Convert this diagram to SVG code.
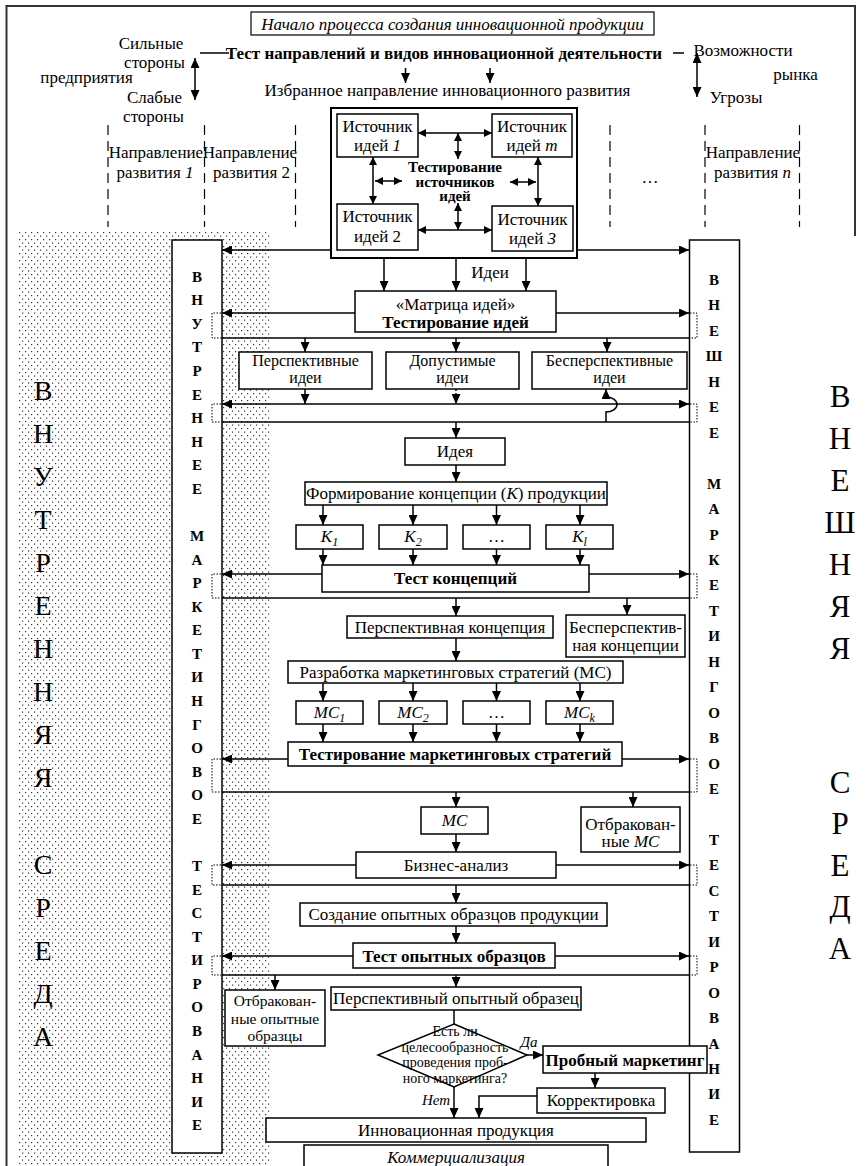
<svg xmlns="http://www.w3.org/2000/svg" width="865" height="1166" viewBox="0 0 865 1166">
<defs>
  <pattern id="dots" width="6" height="7" patternUnits="userSpaceOnUse">
    <rect x="1" y="1" width="1.2" height="1.2" fill="#333"/>
    <rect x="4" y="4.5" width="1.2" height="1.2" fill="#333"/>
  </pattern>
  <marker id="ah" viewBox="0 0 10 9" refX="10" refY="4.5" markerWidth="10" markerHeight="9" markerUnits="userSpaceOnUse" orient="auto-start-reverse">
    <path d="M0,0 L10,4.5 L0,9 z" fill="#000"/>
  </marker>
  <marker id="sh" viewBox="0 0 8 8" refX="8" refY="4" markerWidth="8" markerHeight="8" markerUnits="userSpaceOnUse" orient="auto-start-reverse">
    <path d="M0,0 L8,4 L0,8 z" fill="#000"/>
  </marker>
</defs>
<style>
  .t{font-family:"Liberation Serif","Times New Roman",serif;font-size:17px;fill:#000;text-anchor:middle}
  .s14{font-size:14px}
  .s15{font-size:15px}
  .s155{font-size:15.5px}
  .s16{font-size:16px}
  .b{font-weight:bold}
  .i{font-style:italic}
  .sub{font-size:12px}
  .box{fill:#fff;stroke:#000;stroke-width:1.5}
  .ln{fill:none;stroke:#000;stroke-width:1.5}
  .ar{fill:none;stroke:#000;stroke-width:1.5;marker-end:url(#ah)}
  .dar{fill:none;stroke:#000;stroke-width:1.5;stroke-dasharray:2 2;marker-end:url(#ah)}
  .da{fill:none;stroke:#000;stroke-width:1.5;marker-start:url(#ah);marker-end:url(#ah)}
  .sda{fill:none;stroke:#000;stroke-width:1.5;marker-start:url(#sh);marker-end:url(#sh)}
  .br{fill:none;stroke:#000;stroke-width:1;stroke-dasharray:1.5 1.5}
  .vd{fill:none;stroke:#000;stroke-width:1.2;stroke-dasharray:10 6}
  .frame{fill:none;stroke:#333;stroke-width:2}
  .col{font-family:"Liberation Serif","Times New Roman",serif;font-size:15px;font-weight:bold;text-anchor:middle;fill:#000}
  .big{font-family:"Liberation Serif","Times New Roman",serif;text-anchor:middle;fill:#000}
</style>

<!-- shaded internal environment band and page frame -->
<rect x="18" y="230" width="252" height="936" fill="url(#dots)"/>
<path class="frame" d="M6.5,1166 V6 H855 V236"/>

<!-- side captions -->
<g id="internal-env">
  <text class="big" font-size="28"><tspan x="43" y="399.5">В</tspan><tspan x="43" dy="43.1">Н</tspan><tspan x="43" dy="43.1">У</tspan><tspan x="43" dy="43.1">Т</tspan><tspan x="43" dy="43.1">Р</tspan><tspan x="43" dy="43.1">Е</tspan><tspan x="43" dy="43.1">Н</tspan><tspan x="43" dy="43.1">Н</tspan><tspan x="43" dy="43.1">Я</tspan><tspan x="43" dy="43.1">Я</tspan><tspan x="43" dy="86.2">С</tspan><tspan x="43" dy="43.1">Р</tspan><tspan x="43" dy="43.1">Е</tspan><tspan x="43" dy="43.1">Д</tspan><tspan x="43" dy="43.1">А</tspan></text>
</g>
<g id="external-env">
  <text class="big" font-size="31"><tspan x="840" y="406.5">В</tspan><tspan x="840" dy="42">Н</tspan><tspan x="840" dy="42">Е</tspan><tspan x="840" dy="42">Ш</tspan><tspan x="840" dy="42">Н</tspan><tspan x="840" dy="42">Я</tspan><tspan x="840" dy="42">Я</tspan><tspan x="840" dy="134">С</tspan><tspan x="840" dy="41.5">Р</tspan><tspan x="840" dy="41.5">Е</tspan><tspan x="840" dy="41.5">Д</tspan><tspan x="840" dy="41.5">А</tspan></text>
</g>

<!-- top section -->
<g id="start">
  <rect x="251" y="12" width="403" height="23" fill="#fff" stroke="#000" stroke-width="1.2"/>
  <text class="t i" x="452.5" y="29.5">Начало процесса создания инновационной продукции</text>
</g>
<g id="strengths">
  <text class="t" x="151" y="49">Сильные</text>
  <text class="t" x="154.5" y="68">стороны</text>
  <text class="t" x="86.5" y="83">предприятия</text>
  <text class="t" x="154.5" y="103">Слабые</text>
  <text class="t" x="153.5" y="122">стороны</text>
</g>
<g id="direction-test">
  <text class="t b" x="444" y="59">Тест направлений и видов инновационной деятельности</text>
</g>
<g id="market">
  <text class="t" x="743" y="56">Возможности</text>
  <text class="t" x="795.5" y="80">рынка</text>
  <text class="t" x="736" y="103">Угрозы</text>
</g>
<g id="chosen-direction">
  <text class="t" x="447.5" y="96">Избранное направление инновационного развития</text>
</g>
<g id="directions">
  <path class="vd" d="M108,125 V227 M204.5,125 V227 M295.5,125 V227 M610,125 V227 M705,125 V227 M799.5,125 V227"/>
  <text class="t" x="156" y="158">Направление</text>
  <text class="t" x="155" y="178">развития <tspan class="i">1</tspan></text>
  <text class="t" x="250" y="158">Направление</text>
  <text class="t" x="251.5" y="178">развития 2</text>
  <text class="t" x="650" y="183">…</text>
  <text class="t" x="753" y="158">Направление</text>
  <text class="t" x="752.5" y="178">развития <tspan class="i">n</tspan></text>
</g>

<!-- idea sources -->
<g id="sources">
  <rect x="331" y="108" width="246" height="150" fill="#fff" stroke="#000" stroke-width="2"/>
  <text class="t s15 b" x="455" y="172">Тестирование</text>
  <text class="t s15 b" x="455" y="187">источников</text>
  <text class="t s15 b" x="455" y="201">идей</text>
</g>
<g id="source-1">
  <rect class="box" x="337" y="114" width="81" height="43"/>
  <text class="t" x="377.5" y="132">Источник</text>
  <text class="t" x="377.5" y="151">идей <tspan class="i">1</tspan></text>
</g>
<g id="source-m">
  <rect class="box" x="492" y="114" width="80" height="43"/>
  <text class="t" x="532" y="132">Источник</text>
  <text class="t" x="532" y="151">идей <tspan class="i">m</tspan></text>
</g>
<g id="source-2">
  <rect class="box" x="337" y="204" width="81" height="46"/>
  <text class="t" x="377.5" y="222">Источник</text>
  <text class="t" x="377.5" y="242">идей 2</text>
</g>
<g id="source-3">
  <rect class="box" x="492" y="206" width="81" height="45"/>
  <text class="t" x="532.5" y="225">Источник</text>
  <text class="t" x="532.5" y="243.5">идей <tspan class="i">3</tspan></text>
</g>

<!-- side testing columns -->
<g id="internal-testing">
  <rect class="box" x="172" y="240" width="50" height="913"/>
  <text class="col"><tspan x="197" y="281.7">В</tspan><tspan x="197" dy="23.57">Н</tspan><tspan x="197" dy="23.57">У</tspan><tspan x="197" dy="23.57">Т</tspan><tspan x="197" dy="23.57">Р</tspan><tspan x="197" dy="23.57">Е</tspan><tspan x="197" dy="23.57">Н</tspan><tspan x="197" dy="23.57">Н</tspan><tspan x="197" dy="23.57">Е</tspan><tspan x="197" dy="23.57">Е</tspan><tspan x="197" dy="47.14">М</tspan><tspan x="197" dy="23.57">А</tspan><tspan x="197" dy="23.57">Р</tspan><tspan x="197" dy="23.57">К</tspan><tspan x="197" dy="23.57">Е</tspan><tspan x="197" dy="23.57">Т</tspan><tspan x="197" dy="23.57">И</tspan><tspan x="197" dy="23.57">Н</tspan><tspan x="197" dy="23.57">Г</tspan><tspan x="197" dy="23.57">О</tspan><tspan x="197" dy="23.57">В</tspan><tspan x="197" dy="23.57">О</tspan><tspan x="197" dy="23.57">Е</tspan><tspan x="197" dy="47.14">Т</tspan><tspan x="197" dy="23.57">Е</tspan><tspan x="197" dy="23.57">С</tspan><tspan x="197" dy="23.57">Т</tspan><tspan x="197" dy="23.57">И</tspan><tspan x="197" dy="23.57">Р</tspan><tspan x="197" dy="23.57">О</tspan><tspan x="197" dy="23.57">В</tspan><tspan x="197" dy="23.57">А</tspan><tspan x="197" dy="23.57">Н</tspan><tspan x="197" dy="23.57">И</tspan><tspan x="197" dy="23.57">Е</tspan></text>
</g>
<g id="external-testing">
  <rect class="box" x="689.5" y="240" width="50" height="912"/>
  <text class="col"><tspan x="714" y="285">В</tspan><tspan x="714" dy="25.45">Н</tspan><tspan x="714" dy="25.45">Е</tspan><tspan x="714" dy="25.45">Ш</tspan><tspan x="714" dy="25.45">Н</tspan><tspan x="714" dy="25.45">Е</tspan><tspan x="714" dy="25.45">Е</tspan><tspan x="714" dy="50.9">М</tspan><tspan x="714" dy="25.45">А</tspan><tspan x="714" dy="25.45">Р</tspan><tspan x="714" dy="25.45">К</tspan><tspan x="714" dy="25.45">Е</tspan><tspan x="714" dy="25.45">Т</tspan><tspan x="714" dy="25.45">И</tspan><tspan x="714" dy="25.45">Н</tspan><tspan x="714" dy="25.45">Г</tspan><tspan x="714" dy="25.45">О</tspan><tspan x="714" dy="25.45">В</tspan><tspan x="714" dy="25.45">О</tspan><tspan x="714" dy="25.45">Е</tspan><tspan x="714" dy="50.9">Т</tspan><tspan x="714" dy="25.45">Е</tspan><tspan x="714" dy="25.45">С</tspan><tspan x="714" dy="25.45">Т</tspan><tspan x="714" dy="25.45">И</tspan><tspan x="714" dy="25.45">Р</tspan><tspan x="714" dy="25.45">О</tspan><tspan x="714" dy="25.45">В</tspan><tspan x="714" dy="25.45">А</tspan><tspan x="714" dy="25.45">Н</tspan><tspan x="714" dy="25.45">И</tspan><tspan x="714" dy="25.45">Е</tspan></text>
</g>

<!-- connectors -->
<g id="connectors">
  <path class="da" d="M195,58 V100"/>
  <path class="ln" d="M200,53 H229"/>
  <path class="ln" d="M673,53 H684"/>
  <path class="da" d="M697,53 V97"/>
  <path class="ar" d="M405.5,68 V83"/>
  <path class="ar" d="M490,68 V83"/>

  <path class="sda" d="M418,133 H492"/>
  <path class="sda" d="M458,133 V159"/>
  <path class="sda" d="M373,157 V204"/>
  <path class="sda" d="M375,181 H402"/>
  <path class="sda" d="M538,157 V206"/>
  <path class="sda" d="M510,182 H536"/>
  <path class="sda" d="M458,203 V230"/>
  <path class="sda" d="M418,230 H492"/>

  <path class="ar" d="M331,250 H222"/>
  <path class="ar" d="M577,250 H689"/>
  <path class="ar" d="M384,258 V291"/>
  <path class="ar" d="M456,258 V291"/>
  <path class="ar" d="M526,258 V291"/>

  <path class="ar" d="M355,313 H222"/>
  <path class="ar" d="M556,313 H689"/>
  <path class="br" d="M221,313 H212 V338 H221 M690,313 H697 V338 H690"/>
  <path class="ln" d="M222,338 H689"/>
  <path class="ar" d="M305,338 V352"/>
  <path class="ar" d="M456,338 V352"/>
  <path class="ar" d="M607,338 V352"/>

  <path class="ar" d="M305,389 V404"/>
  <path class="dar" d="M456,389 V404"/>
  <path class="da" d="M222,404 H689"/>
  <path class="br" d="M221,404 H212 V422 H221 M690,404 H697 V422 H690"/>
  <path class="ln" d="M222,422 H689"/>
  <path class="ar" d="M606,422 V412 A11,7.5 0 0 0 606,397 V389"/>
  <path class="ar" d="M456,422 V438"/>
  <path class="ar" d="M456,465 V482"/>

  <path class="ar" d="M323,505 V525"/>
  <path class="ar" d="M413,505 V525"/>
  <path class="ar" d="M496.5,505 V525"/>
  <path class="ar" d="M580,505 V525"/>
  <path class="ar" d="M323,549 V565"/>
  <path class="ar" d="M413,549 V565"/>
  <path class="ar" d="M496.5,549 V565"/>
  <path class="ar" d="M580,549 V565"/>

  <path class="ar" d="M322,574 H222"/>
  <path class="ar" d="M589,574 H689"/>
  <path class="br" d="M221,574 H212 V598 H221 M690,574 H697 V598 H690"/>
  <path class="ln" d="M222,598 H689"/>
  <path class="ar" d="M456,598 V616"/>
  <path class="ar" d="M627,598 V615"/>
  <path class="ar" d="M456,638 V661"/>

  <path class="ar" d="M323,683 V701"/>
  <path class="ar" d="M413,683 V701"/>
  <path class="ar" d="M496.5,683 V701"/>
  <path class="ar" d="M580,683 V701"/>
  <path class="ar" d="M323,724 V742"/>
  <path class="ar" d="M413,724 V742"/>
  <path class="ar" d="M496.5,724 V742"/>
  <path class="ar" d="M580,724 V742"/>

  <path class="ar" d="M288,759 H222"/>
  <path class="ar" d="M622,759 H689"/>
  <path class="br" d="M221,759 H212 V792 H221 M690,759 H697 V792 H690"/>
  <path class="ln" d="M222,792 H689"/>
  <path class="ar" d="M456,792 V807"/>
  <path class="ar" d="M633,792 V807"/>
  <path class="ar" d="M456,834 V852"/>

  <path class="ar" d="M356,865 H222"/>
  <path class="ar" d="M556,865 H689"/>
  <path class="br" d="M221,865 H212 V885 H221 M690,865 H697 V885 H690"/>
  <path class="ln" d="M222,885 H689"/>
  <path class="ar" d="M456,885 V903"/>
  <path class="ar" d="M456,926 V943"/>

  <path class="ar" d="M353,956 H222"/>
  <path class="ar" d="M555,956 H689"/>
  <path class="br" d="M221,956 H212 V975 H221 M690,956 H697 V975 H690"/>
  <path class="ln" d="M222,975 H689"/>
  <path class="ar" d="M275,975 V990"/>
  <path class="ar" d="M456,975 V987"/>

  <path class="ln" d="M454,1010 V1024"/>
  <path class="ar" d="M527,1055 H543"/>
  <path class="ar" d="M595,1073 V1088"/>
  <path class="ar" d="M537,1096 H479 V1118"/>
  <path class="ar" d="M454,1087 V1118"/>
  <text class="t" x="490" y="278">Идеи</text>
  <text class="t s15 i" x="529" y="1047">Да</text>
  <text class="t s15 i" x="436" y="1105">Нет</text>
</g>

<!-- process steps -->
<g id="idea-matrix">
  <rect class="box" x="355" y="291" width="201" height="41"/>
  <text class="t" x="455.5" y="309.5">«Матрица идей»</text>
  <text class="t b" x="455.5" y="328">Тестирование идей</text>
</g>
<g id="promising-ideas">
  <rect class="box" x="239" y="352" width="133" height="37"/>
  <text class="t s16" x="305.5" y="365.5">Перспективные</text>
  <text class="t s16" x="305.5" y="383.3">идеи</text>
</g>
<g id="acceptable-ideas">
  <rect class="box" x="386" y="352" width="133" height="37"/>
  <text class="t s16" x="452.5" y="365.5">Допустимые</text>
  <text class="t s16" x="452.5" y="383.3">идеи</text>
</g>
<g id="unpromising-ideas">
  <rect class="box" x="532" y="352" width="155" height="37"/>
  <text class="t s16" x="609.5" y="365.5">Бесперспективные</text>
  <text class="t s16" x="609.5" y="383.3">идеи</text>
</g>
<g id="idea">
  <rect class="box" x="405" y="438" width="100" height="27"/>
  <text class="t" x="455" y="457">Идея</text>
</g>
<g id="concept-forming">
  <rect class="box" x="305" y="482" width="302" height="23"/>
  <text class="t" x="456" y="499">Формирование концепции (<tspan class="i">К</tspan>) продукции</text>
</g>
<g id="k1">
  <rect class="box" x="296" y="525" width="67" height="24"/>
  <text class="t i" x="329.5" y="542">K<tspan class="sub" dy="4">1</tspan></text>
</g>
<g id="k2">
  <rect class="box" x="379" y="525" width="68" height="24"/>
  <text class="t i" x="413" y="542">K<tspan class="sub" dy="4">2</tspan></text>
</g>
<g id="k-dots">
  <rect class="box" x="463" y="525" width="67" height="24"/>
  <text class="t" x="496.5" y="542">…</text>
</g>
<g id="kl">
  <rect class="box" x="546" y="525" width="67" height="24"/>
  <text class="t i" x="579.5" y="542">K<tspan class="sub" dy="4">l</tspan></text>
</g>
<g id="concept-test">
  <rect class="box" x="322" y="565" width="267" height="27"/>
  <text class="t b" x="455.5" y="584">Тест концепций</text>
</g>
<g id="promising-concept">
  <rect class="box" x="347" y="616" width="206" height="22"/>
  <text class="t" x="450" y="633">Перспективная концепция</text>
</g>
<g id="unpromising-concept">
  <rect class="box" x="566" y="615" width="119" height="42"/>
  <text class="t" x="625.5" y="633">Бесперспектив-</text>
  <text class="t" x="625.5" y="651">ная концепции</text>
</g>
<g id="strategy-dev">
  <rect class="box" x="288" y="661" width="335" height="22"/>
  <text class="t" x="455.5" y="678">Разработка маркетинговых стратегий (МС)</text>
</g>
<g id="ms1">
  <rect class="box" x="296" y="701" width="67" height="23"/>
  <text class="t i" x="329.5" y="718">МС<tspan class="sub" dy="4">1</tspan></text>
</g>
<g id="ms2">
  <rect class="box" x="379" y="701" width="68" height="23"/>
  <text class="t i" x="413" y="718">МС<tspan class="sub" dy="4">2</tspan></text>
</g>
<g id="ms-dots">
  <rect class="box" x="463" y="701" width="67" height="23"/>
  <text class="t" x="496.5" y="718">…</text>
</g>
<g id="msk">
  <rect class="box" x="546" y="701" width="67" height="23"/>
  <text class="t i" x="579.5" y="718">МС<tspan class="sub" dy="4">k</tspan></text>
</g>
<g id="strategy-test">
  <rect class="box" x="288" y="742" width="334" height="24"/>
  <text class="t b" x="455" y="760">Тестирование маркетинговых стратегий</text>
</g>
<g id="ms">
  <rect class="box" x="421" y="807" width="67" height="27"/>
  <text class="t i" x="454.5" y="826">МС</text>
</g>
<g id="rejected-ms">
  <rect class="box" x="581" y="807" width="99" height="45"/>
  <text class="t" x="630.5" y="830">Отбракован-</text>
  <text class="t" x="630.5" y="847">ные <tspan class="i">МС</tspan></text>
</g>
<g id="business-analysis">
  <rect class="box" x="356" y="852" width="200" height="26"/>
  <text class="t" x="456" y="871">Бизнес-анализ</text>
</g>
<g id="prototypes">
  <rect class="box" x="300" y="903" width="307" height="23"/>
  <text class="t" x="453.5" y="920">Создание опытных образцов продукции</text>
</g>
<g id="prototype-test">
  <rect class="box" x="353" y="943" width="202" height="25"/>
  <text class="t b" x="454" y="962">Тест опытных образцов</text>
</g>
<g id="rejected-prototypes">
  <rect class="box" x="225" y="990" width="100" height="56"/>
  <text class="t s155" x="275" y="1006">Отбракован-</text>
  <text class="t s155" x="275" y="1023.5">ные опытные</text>
  <text class="t s155" x="275" y="1041">образцы</text>
</g>
<g id="promising-prototype">
  <rect class="box" x="331" y="987" width="250" height="23"/>
  <text class="t" x="456" y="1004">Перспективный опытный образец</text>
</g>
<g id="decision">
  <polygon points="454,1024 527,1055 454,1087 378,1055" fill="#fff" stroke="#000" stroke-width="1.5"/>
  <text class="t s14" x="455" y="1036">Есть ли</text>
  <text class="t s14" x="455" y="1051.5">целесообразность</text>
  <text class="t s14" x="455" y="1067">проведения проб-</text>
  <text class="t s14" x="455" y="1082.5">ного маркетинга?</text>
</g>
<g id="test-marketing">
  <rect class="box" x="543" y="1046" width="164" height="27"/>
  <text class="t b" x="625" y="1066">Пробный маркетинг</text>
</g>
<g id="correction">
  <rect class="box" x="537" y="1088" width="128" height="25"/>
  <text class="t" x="601" y="1106">Корректировка</text>
</g>
<g id="innovative-product">
  <rect class="box" x="266" y="1118" width="380" height="24"/>
  <text class="t" x="456" y="1136">Инновационная продукция</text>
</g>
<g id="commercialization">
  <rect class="box" x="304" y="1145" width="304" height="30"/>
  <text class="t i" x="456" y="1163">Коммерциализация</text>
</g>
</svg>
